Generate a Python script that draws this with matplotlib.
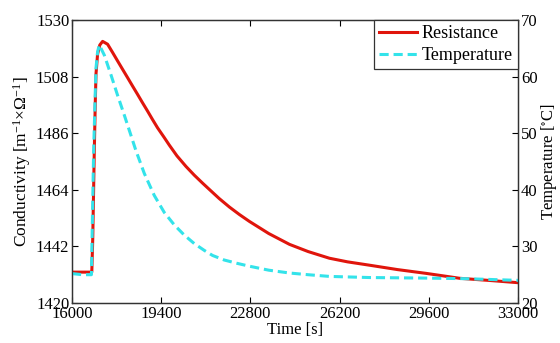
import numpy as np
import matplotlib.pyplot as plt
import matplotlib

matplotlib.rcParams['font.family'] = ['Liberation Serif', 'DejaVu Serif']
matplotlib.rcParams['mathtext.default'] = 'regular'
matplotlib.rcParams['font.size'] = 12

# conductivity (resistance) series, left axis
time_r = [16000, 16400, 16754, 16790, 16850, 16888, 16914, 16975, 17060, 17166,
          17356, 17540, 17737, 17930, 18118, 18310, 18499, 18690, 18880, 19070,
          19261, 19517, 19707, 20000, 20343, 20660, 20976, 21240, 21612, 22000,
          22380, 22764, 23500, 24289, 25000, 25813, 26500, 27337, 28400, 29511,
          30781, 32000, 33000]
cond = [1432.0, 1432.0, 1432.0, 1445.0, 1479.6, 1498.5, 1509.0, 1516.8, 1520.3, 1521.7,
        1520.6, 1517.5, 1514.1, 1510.8, 1507.6, 1504.3, 1501.1, 1497.8, 1494.6, 1491.3,
        1488.1, 1484.3, 1481.4, 1477.2, 1473.1, 1469.7, 1466.6, 1464.1, 1460.6, 1457.3,
        1454.4, 1451.7, 1447.0, 1442.8, 1440.0, 1437.4, 1436.0, 1434.7, 1433.0, 1431.5,
        1429.6, 1428.7, 1427.9]

# temperature series, right axis
time_t = [16000, 16400, 16740, 16755, 16790, 16823, 16876, 16914, 16975, 17040,
          17231, 17486, 17737, 17993, 18248, 18438, 18755, 19136, 19517, 19898,
          20279, 20660, 21041, 21358, 21800, 22300, 22764, 23500, 24289, 25000,
          25813, 27337, 29511, 31000, 33000]
temp = [25.2, 25.0, 25.0, 29.0, 38.0, 46.7, 55.5, 61.5, 64.4, 65.6,
        63.8, 60.3, 56.7, 53.2, 49.6, 46.9, 42.9, 39.0, 36.0, 33.8,
        32.0, 30.5, 29.3, 28.4, 27.6, 27.0, 26.5, 25.8, 25.3, 25.0,
        24.7, 24.5, 24.4, 24.3, 24.0]

xticks = [16000, 19400, 22800, 26200, 29600, 33000]
yticks_l = [1420, 1442, 1464, 1486, 1508, 1530]
yticks_r = [20, 30, 40, 50, 60, 70]

fig = plt.figure(figsize=(5.6, 3.43), dpi=100)
ax1 = fig.add_axes([0.1286, 0.1166, 0.7964, 0.825])
ax2 = ax1.twinx()

l1, = ax1.plot(time_r, cond, '-', color='#e0150c', lw=2.2, label='Resistance')
l2, = ax2.plot(time_t, temp, color='#33e3ea', lw=2.2, linestyle=(0, (3, 1.6)), label='Temperature')

ax1.set_xlim(16000, 33000)
ax1.set_ylim(1420, 1530)
ax2.set_ylim(20, 70)
ax1.set_xticks(xticks)
ax1.set_yticks(yticks_l)
ax2.set_yticks(yticks_r)

ax1.tick_params(direction='in', top=True, right=False, length=4, pad=2)
ax2.tick_params(direction='in', length=4, pad=2)
for ax in (ax1, ax2):
    for s in ax.spines.values():
        s.set_color('#333333')
        s.set_linewidth(0.9)

ax1.set_xlabel('Time [s]', labelpad=0)
ax1.set_ylabel(r'Conductivity [m$^{-1}$$\times\Omega^{-1}$]', labelpad=2, fontsize=12.5)
ax2.set_ylabel(r'Temperature [$^{\circ}$C]', labelpad=1)

leg = ax2.legend(handles=[l1, l2], loc='upper right', borderaxespad=0,
                 fancybox=False, edgecolor='#333333', framealpha=1, fontsize=13,
                 handlelength=2.1, handletextpad=0.25, borderpad=0.3,
                 labelspacing=0.25)
leg.get_frame().set_linewidth(0.9)

fig.savefig('out.png', dpi=100)
